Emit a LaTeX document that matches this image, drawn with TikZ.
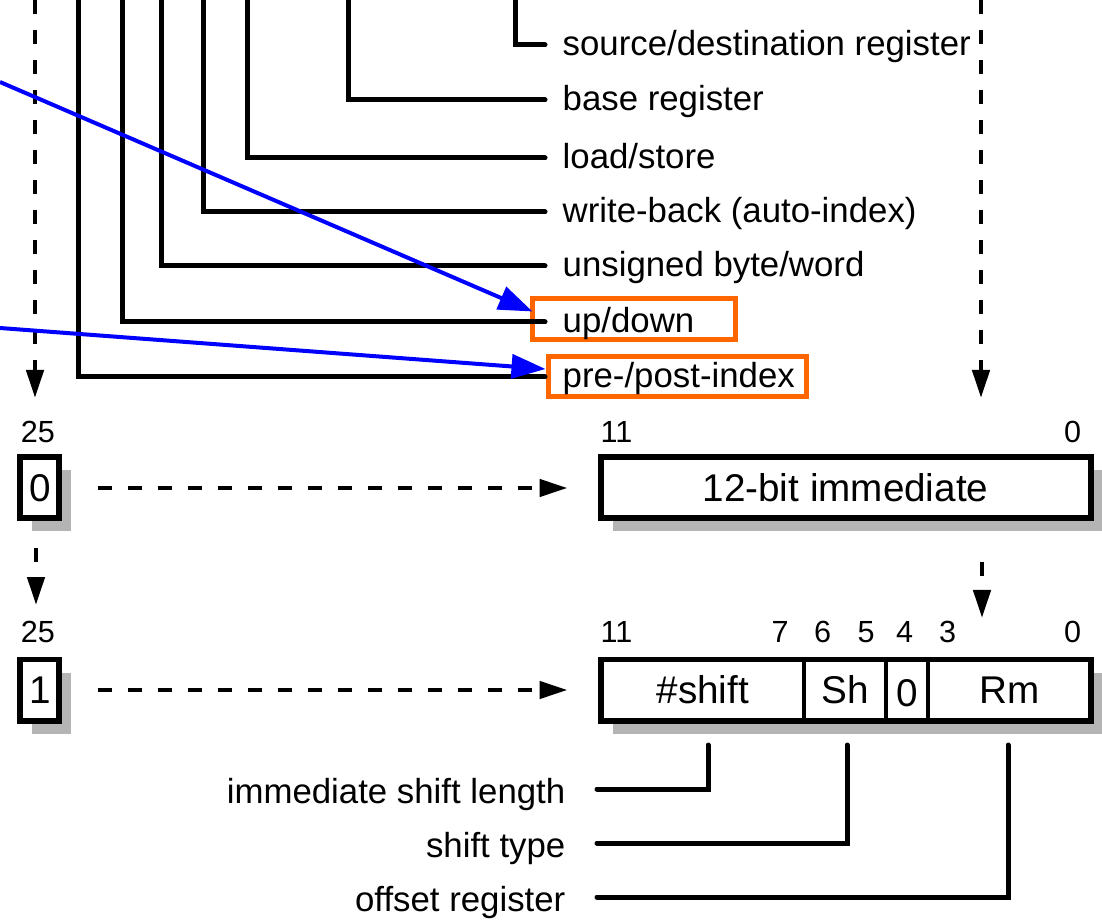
\documentclass[tikz,border=0pt]{standalone}
\usepackage{fontspec}
\setmainfont{Liberation Sans}
\usetikzlibrary{arrows.meta,shadows}
\definecolor{markorange}{HTML}{FF6600}
\definecolor{pointblue}{HTML}{0000FF}
\definecolor{shadowgrey}{HTML}{B4B4B4}

\begin{document}
\begin{tikzpicture}[x=1cm, y=1cm, >={Triangle[length=0.28cm, width=0.17cm]},
                    every node/.style={black, inner sep=0pt},
                    lead/.style={line width=0.05cm, line cap=round},
                    dasharr/.style={->, line width=0.045cm, dash pattern=on 0.14cm off 0.16cm},
                    toplbl/.style={anchor=west, inner xsep=0.17cm, font=\fontsize{9.9}{12}\selectfont,
                                   text height=0.8em, text depth=0.2em},
                    botlbl/.style={anchor=east, inner xsep=0.31cm, font=\fontsize{9.9}{12}\selectfont,
                                   text height=1.0em, text depth=0.2em},
                    bitno/.style={font=\fontsize{8.7}{10}\selectfont},
                    fieldbox/.style={draw, fill=white, line width=0.06cm, minimum height=0.61cm,
                                     font=\fontsize{11}{13}\selectfont,
                                     drop shadow={shadow xshift=0.12cm, shadow yshift=-0.13cm,
                                                  fill=shadowgrey, opacity=1}},
                    fieldtxt/.style={minimum height=0.61cm, font=\fontsize{11}{13}\selectfont},
                    hlbox/.style={draw=markorange, line width=0.05cm},
                    bluearr/.style={pointblue, line width=0.04cm,
                                    -{Triangle[length=0.34cm, width=0.24cm]}}]

  \useasboundingbox (0,0) rectangle (11.02,9.23);

  %% 被標出的兩個欄位說明
  \node[hlbox, minimum width=2.03cm, minimum height=0.41cm] (udbox) at (6.335,6.035) {};
  \node[hlbox, minimum width=2.58cm, minimum height=0.40cm] (ppbox) at (6.77,5.46) {};

  %% 上方各位元的說明文字
  \node[toplbl] (lsrc)  at (5.45,8.78) {source/destination register};
  \node[toplbl] (lbase) at (5.45,8.23) {base register};
  \node[toplbl] (lls)   at (5.45,7.65) {load/store};
  \node[toplbl] (lwb)   at (5.45,7.11) {write-back (auto-index)};
  \node[toplbl] (lub)   at (5.45,6.57) {unsigned byte/word};
  \node[toplbl] (lud)   at (5.45,6.01) {up/down};
  \node[toplbl] (lpp)   at (5.45,5.46) {pre-/post-index};

  %% 從上緣拉下來的引線
  \coordinate (vsrc)  at (5.15,9.23);
  \coordinate (vbase) at (3.48,9.23);
  \coordinate (vls)   at (2.47,9.23);
  \coordinate (vwb)   at (2.03,9.23);
  \coordinate (vub)   at (1.61,9.23);
  \coordinate (vud)   at (1.22,9.23);
  \coordinate (vpp)   at (0.79,9.23);
  \draw[lead] (vsrc)  |- (lsrc.west);
  \draw[lead] (vbase) |- (lbase.west);
  \draw[lead] (vls)   |- (lls.west);
  \draw[lead] (vwb)   |- (lwb.west);
  \draw[lead] (vub)   |- (lub.west);
  \draw[lead] (vud)   |- (lud.west);
  \draw[lead] (vpp)   |- (lpp.west);

  %% 兩條虛線箭頭 (bit 25 與 offset)
  \coordinate (dlA) at (0.35,9.23);
  \coordinate (dlB) at (0.35,5.25);
  \coordinate (drA) at (9.81,9.23);
  \coordinate (drB) at (9.81,5.25);
  \draw[dasharr] (dlA) -- (dlB);
  \draw[dasharr] (drA) -- (drB);

  %% I = 0: 12 位元立即值
  \node[bitno] (n25a) at (0.38,4.915) {25};
  \node[bitno] (n11a) at (6.165,4.915) {11};
  \node[bitno] (n0a)  at (10.725,4.915) {0};
  \node[fieldbox, minimum width=0.39cm] (flag0) at (0.40,4.35) {0};
  \node[fieldbox, minimum width=4.90cm] (immbox) at (8.455,4.35) {12-bit immediate};
  \draw[dasharr, shorten <=0.35cm, shorten >=0.30cm] (flag0) -- (immbox);

  \coordinate (ldA) at (0.36,3.75);
  \coordinate (ldB) at (0.36,3.18);
  \coordinate (rdA) at (9.82,3.61);
  \coordinate (rdB) at (9.82,3.05);
  \draw[dasharr] (ldA) -- (ldB);
  \draw[dasharr] (rdA) -- (rdB);

  %% I = 1: 位移後的暫存器
  \node[bitno] (n25b) at (0.38,2.91) {25};
  \node[bitno] (n11b) at (6.165,2.91) {11};
  \node[bitno] (n7b)  at (7.80,2.91) {7};
  \node[bitno] (n6b)  at (8.225,2.91) {6};
  \node[bitno] (n5b)  at (8.66,2.91) {5};
  \node[bitno] (n4b)  at (9.045,2.91) {4};
  \node[bitno] (n3b)  at (9.475,2.91) {3};
  \node[bitno] (n0b)  at (10.725,2.91) {0};
  \node[fieldbox, minimum width=0.39cm] (flag1) at (0.40,2.33) {1};
  \node[fieldbox, minimum width=4.90cm] (offbox) at (8.455,2.33) {};
  \node[fieldtxt, minimum width=2.045cm] (fshift) at (7.0275,2.33) {\#shift};
  \node[fieldtxt, minimum width=0.80cm]  (fsh)    at (8.45,2.33) {Sh};
  \node[fieldtxt, minimum width=0.44cm]  (fzero)  at (9.07,2.30) {0};
  \node[fieldtxt, minimum width=1.615cm] (frm)    at (10.0975,2.33) {Rm};
  \draw[line width=0.04cm] (fsh.north west) -- (fsh.south west);
  \draw[line width=0.04cm] (fsh.north east) -- (fsh.south east);
  \draw[line width=0.04cm] (frm.north west) -- (frm.south west);
  \draw[dasharr, shorten <=0.35cm, shorten >=0.30cm] (flag1) -- (offbox);

  %% 下方欄位說明
  \node[botlbl] (limm) at (5.97,1.34) {immediate shift length};
  \node[botlbl] (lsty) at (5.97,0.80) {shift type};
  \node[botlbl] (lofs) at (5.97,0.26) {offset register};
  \coordinate (dimm) at (7.08,1.78);
  \coordinate (dsty) at (8.47,1.78);
  \coordinate (dofs) at (10.08,1.78);
  \draw[lead] (dimm) |- (limm.east);
  \draw[lead] (dsty) |- (lsty.east);
  \draw[lead] (dofs) |- (lofs.east);

  %% 藍色指示箭頭
  \coordinate (uorig) at (0,8.41);
  \coordinate (porig) at (0,5.95);
  \draw[bluearr] (uorig) -- ([shift={(0.03,0.08)}]udbox.west);
  \draw[bluearr] (porig) -- ([yshift=0.08cm]ppbox.west);

\end{tikzpicture}
\end{document}
